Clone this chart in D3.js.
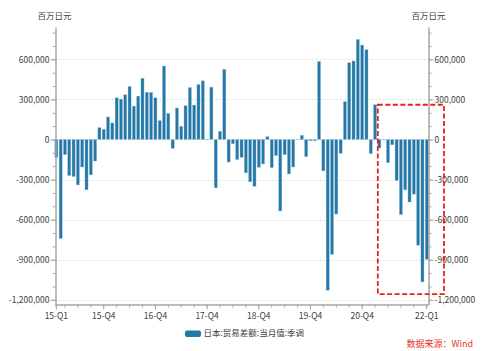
<!DOCTYPE html>
<html>
<head>
<meta charset="utf-8">
<script src="https://cdn.jsdelivr.net/npm/d3@7"></script>
<style>
  body { margin: 0; background: #fff; }
  text { font-family: "Noto Sans CJK SC", "Noto Sans", sans-serif; }
</style>
</head>
<body>
<div id="chart"></div>
<script>
// Monthly categories, Jan 2015 .. Mar 2022
const months = d3.timeMonth.range(new Date(2015, 0, 1), new Date(2022, 3, 1))
    .map(d3.timeFormat("%Y-%m"));

// 日本:贸易差额:当月值:季调 (百万日元)
const tradeBalance = [
    -134000, -741000, -114000, -270000, -278000, -340000, -206000, -377000, -265000, -161000,
    89000, 77000, 169000, 124000, 312000, 302000, 335000, 397000, 250000, 325000,
    459000, 354000, 352000, 312000, 141000, 550000, 196000, -67000, 236000, 99000,
    253000, 389000, 258000, 412000, 439000, -3000, 392000, -362000, 62000, 526000,
    -169000, -32000, -151000, -134000, -250000, -317000, -350000, -208000, -183000, 22000,
    -211000, -121000, -535000, -114000, -258000, -206000, 2000, 32000, -129000, -10000,
    -10000, 585000, -235000, -1128000, -860000, -558000, -104000, 283000, 575000, 588000,
    749000, 707000, 672000, -107000, 260000, -64000, -3000, -174000, -40000, -307000,
    -563000, -377000, -468000, -409000, -791000, -1066000, -897000
];

const tickMonths = ["2015-01", "2015-12", "2016-12", "2017-12", "2018-12", "2019-12", "2020-12", "2022-03"];
const tickLabels = ["15-Q1", "15-Q4", "16-Q4", "17-Q4", "18-Q4", "19-Q4", "20-Q4", "22-Q1"];
const yTicks = [-1200000, -900000, -600000, -300000, 0, 300000, 600000];
const yMinorTicks = d3.range(-1200000, 800001, 100000);

const seriesName = "日本:贸易差额:当月值:季调";
const unitLabel = "百万日元";
const sourceLabel = "数据来源：Wind";

const width = 487, height = 351;
const plotLeft = 55.5, plotRight = 428.5, plotTop = 27, plotBottom = 304.5;
const barColor = "#2577a6";
const axisColor = "#a6a6a6";
const textColor = "#404040";

const fmt = d3.formatLocale({
    decimal: ".", thousands: ",", grouping: [3], currency: ["", ""], minus: "-"
}).format(",");

const svg = d3.select("#chart")
    .append("svg")
    .attr("width", width)
    .attr("height", height);

const x = d3.scaleBand()
    .domain(months)
    .range([54.8, 428.3])
    .paddingInner(0.28);

const y = d3.scaleLinear()
    .domain([-1235000, 842000])
    .range([plotBottom, plotTop]);

// Gridlines
svg.append("g")
    .selectAll("line")
    .data(yTicks)
    .join("line")
    .attr("x1", plotLeft)
    .attr("x2", plotRight)
    .attr("y1", d => Math.round(y(d)) + 0.5)
    .attr("y2", d => Math.round(y(d)) + 0.5)
    .attr("stroke", "#dcdcdc")
    .attr("stroke-dasharray", "2,2");

// Bars
svg.append("g")
    .selectAll("rect")
    .data(tradeBalance)
    .join("rect")
    .attr("x", (d, i) => x(months[i]))
    .attr("width", x.bandwidth())
    .attr("y", d => y(Math.max(0, d)))
    .attr("height", d => Math.abs(y(d) - y(0)))
    .attr("fill", barColor)
    .attr("stroke", "#9cc6de")
    .attr("stroke-width", 0.4);

// Style helper for axes
function styleAxis(g) {
    g.selectAll(".domain").attr("stroke", axisColor);
    g.selectAll(".tick line").attr("stroke", axisColor);
    g.selectAll(".tick text")
        .attr("fill", textColor)
        .style("font-size", "8.5px");
}

// Left axis
svg.append("g")
    .attr("transform", `translate(${plotLeft},0)`)
    .call(d3.axisLeft(y).tickValues(yMinorTicks).tickSize(3).tickSizeOuter(0).tickFormat(""))
    .call(styleAxis);
svg.append("g")
    .attr("transform", `translate(${plotLeft},0)`)
    .call(d3.axisLeft(y).tickValues(yTicks).tickSize(5).tickSizeOuter(0).tickPadding(1).tickFormat(fmt))
    .call(styleAxis);

// Right axis
svg.append("g")
    .attr("transform", `translate(${plotRight},0)`)
    .call(d3.axisRight(y).tickValues(yMinorTicks).tickSize(3).tickSizeOuter(0).tickFormat(""))
    .call(styleAxis);
svg.append("g")
    .attr("transform", `translate(${plotRight},0)`)
    .call(d3.axisRight(y).tickValues(yTicks).tickSize(5).tickSizeOuter(0).tickPadding(1).tickFormat(fmt))
    .call(styleAxis);

// Bottom axis: quarter-end minor ticks, labelled major ticks
const quarterMonths = months.filter((m, i) => i === 0 || i % 3 === 2);
svg.append("g")
    .attr("transform", `translate(0,${plotBottom})`)
    .call(d3.axisBottom(x).tickValues(quarterMonths).tickSize(3).tickSizeOuter(0).tickFormat(""))
    .call(styleAxis);
svg.append("g")
    .attr("transform", `translate(0,${plotBottom})`)
    .call(d3.axisBottom(x).tickValues(tickMonths).tickSize(5).tickSizeOuter(0)
        .tickFormat((d, i) => tickLabels[i]))
    .call(styleAxis)
    .call(g => g.select(".domain").attr("d", `M${plotLeft},0.5H${plotRight}`));

// Unit labels
svg.append("text")
    .attr("x", plotLeft - 1)
    .attr("y", 16)
    .attr("dy", "0.35em")
    .attr("text-anchor", "middle")
    .attr("fill", textColor)
    .style("font-size", "8.5px")
    .text(unitLabel);
svg.append("text")
    .attr("x", plotRight)
    .attr("y", 16)
    .attr("dy", "0.35em")
    .attr("text-anchor", "middle")
    .attr("fill", textColor)
    .style("font-size", "8.5px")
    .text(unitLabel);

// Highlight box around the recent deficits
const boxX0 = x(months[75]);
svg.append("rect")
    .attr("x", boxX0)
    .attr("y", y(260000))
    .attr("width", plotRight + 15.5 - boxX0)
    .attr("height", y(-1158000) - y(260000))
    .attr("fill", "none")
    .attr("stroke", "#e5231b")
    .attr("stroke-width", 1.8)
    .attr("stroke-dasharray", "5,2.5");

// Legend
const legend = svg.append("g").attr("transform", "translate(185,333.5)");
legend.append("rect")
    .attr("x", 0)
    .attr("y", -3)
    .attr("width", 16)
    .attr("height", 6.5)
    .attr("rx", 2)
    .attr("fill", barColor);
legend.append("text")
    .attr("x", 18.5)
    .attr("y", 0)
    .attr("dy", "0.35em")
    .attr("fill", textColor)
    .style("font-size", "8.5px")
    .text(seriesName);

// Source note
svg.append("text")
    .attr("x", 473)
    .attr("y", 344)
    .attr("dy", "0.35em")
    .attr("text-anchor", "end")
    .attr("fill", "#e5322d")
    .style("font-size", "9px")
    .text(sourceLabel);
</script>
</body>
</html>
